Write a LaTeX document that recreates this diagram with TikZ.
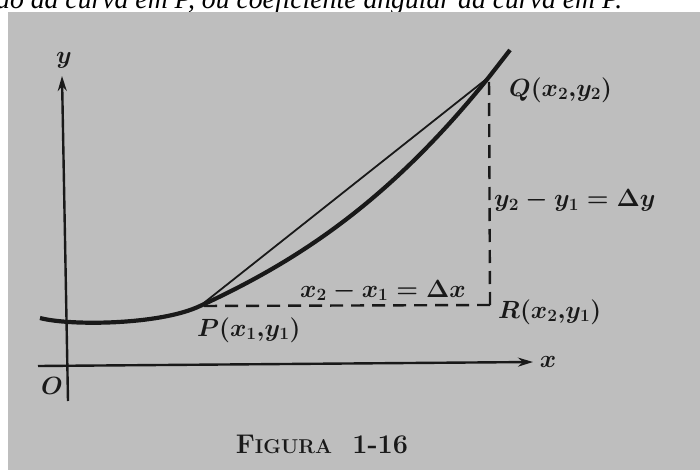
\documentclass[tikz,border=0pt]{standalone}
\usepackage{graphicx}
\usepackage{fontspec}
\newfontfamily\pagefont{Liberation Serif}
\usetikzlibrary{arrows.meta}
\definecolor{photo}{RGB}{190,190,190}
\definecolor{ink}{RGB}{25,25,25}
\begin{document}
\begin{tikzpicture}[x=1pt, y=-1pt,
	lbl/.style={font=\fontsize{25}{30}\selectfont\boldmath, text=ink, inner sep=0pt},
	axis/.style={ink, line width=2.4pt, -{Stealth[length=15pt,width=9pt]}},
	guide/.style={ink, line width=2.4pt, dash pattern=on 13pt off 8pt}]
	\useasboundingbox (0,0) rectangle (700,470);
	\fill [white] (0,0) rectangle (700,470);
	% line of the page above the photo
	\node [anchor=base west, inner sep=0pt] (pageline) at (-4,9) {\resizebox{626pt}{!}{\pagefont\itshape ão da curva em P, ou coeficiente angular da curva em P.}};
	\fill [photo] (8,12) rectangle (700,470);
	\coordinate (xstart) at (38,366);
	\coordinate (xend) at (533,362);
	\coordinate (ystart) at (68,401);
	\coordinate (yend) at (62,76);
	\coordinate (start) at (40,318);
	\coordinate (P) at (200,306);
	\coordinate (Q) at (489,77);
	\coordinate (R) at (490,305);
	\coordinate (tip) at (510,50);
	\draw [axis] (xstart) -- (xend);
	\draw [axis] (ystart) -- (yend);
	\draw [guide] (R) -- (P);
	\draw [guide] (R) -- (Q);
	\draw [ink, line width=1.8pt] (P) -- (Q);
	\draw [ink, line width=4.2pt] (start) .. controls (70,326) and (160,325) .. (P) .. controls (300,260) and (390,200) .. (Q) -- (tip);
	\node [lbl] (lbly) at (64,60) {$y$};
	\node [lbl] (lblx) at (548,362) {$x$};
	\node [lbl] (lblO) at (52,386) {$O$};
	\node [lbl, anchor=west] (lblQ) at (509,90) {$Q(x_2{,}y_2)$};
	\node [lbl, anchor=base west] (lbldy) at (494,207) {$y_2 - y_1 = \Delta y$};
	\node [lbl, anchor=base] (lbldx) at (383,297) {$x_2 - x_1 = \Delta x$};
	\node [lbl, anchor=west] (lblR) at (498,312) {$R(x_2{,}y_1)$};
	\node [lbl, anchor=west] (lblP) at (197,330) {$P(x_1{,}y_1)$};
	\node [font=\fontsize{27}{32}\selectfont\bfseries, text=ink, anchor=base] (caption) at (322,453) {F{\fontsize{20}{24}\selectfont IGURA}\ \ 1-16};
\end{tikzpicture}
\end{document}
